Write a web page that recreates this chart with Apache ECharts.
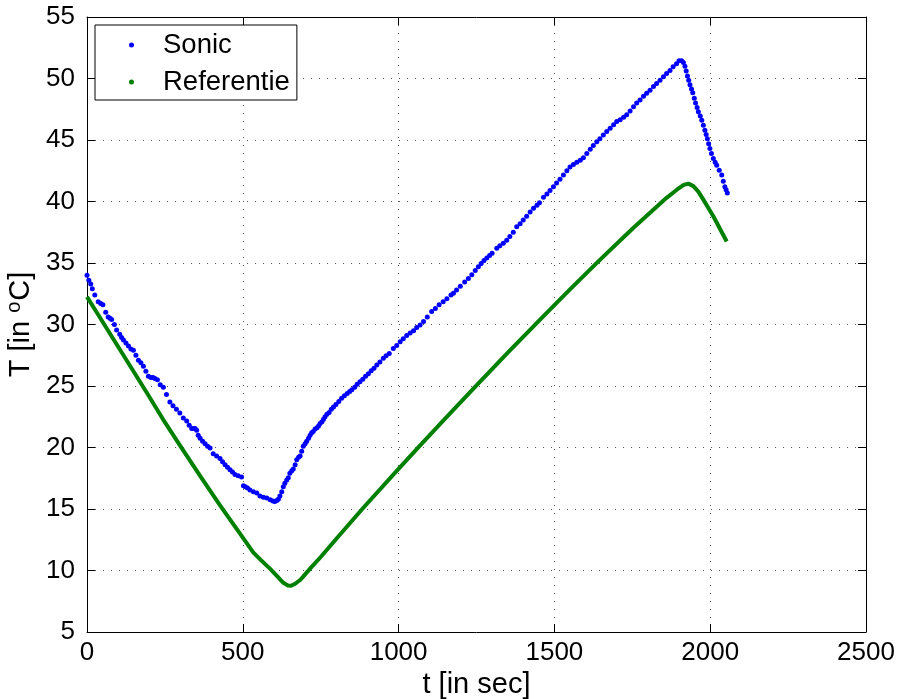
<!DOCTYPE html>
<html>
<head>
<meta charset="utf-8">
<script src="https://cdn.jsdelivr.net/npm/echarts@6/dist/echarts.min.js"></script>
<style>
  html, body { margin: 0; padding: 0; background: #fff; }
  #chart { width: 901px; height: 699px; }
</style>
</head>
<body>
<div id="chart"></div>
<script>
// Tick values
const xTicks = [0, 500, 1000, 1500, 2000, 2500];
const yTicks = [5, 10, 15, 20, 25, 30, 35, 40, 45, 50, 55];

// Sonic sensor: time [s]
const sonicT = [
  0, 6, 12, 17, 25, 36, 44, 51, 60, 68, 74, 79, 88, 95, 105, 111, 117, 125, 133, 141,
  149, 157, 165, 173, 181, 189, 197, 205, 212, 218, 226, 235, 245, 255, 266, 276, 287, 298, 309, 320,
  328, 336, 342, 347, 352, 357, 363, 371, 379, 387, 395, 405, 416, 427, 435, 443, 451, 459, 467, 475,
  485, 496, 502, 508, 515, 523, 534, 545, 555, 566, 577, 588, 597, 603, 609, 614, 619, 625, 630, 635,
  641, 646, 651, 657, 662, 668, 673, 679, 684, 689, 694, 700, 705, 711, 716, 721, 726, 732, 738, 743,
  748, 754, 759, 764, 770, 777, 784, 791, 799, 808, 817, 826, 835, 843, 850, 859, 867, 876, 885, 894,
  903, 912, 921, 930, 940, 951, 960, 970, 983, 994, 1005, 1015, 1026, 1037, 1048, 1058, 1069, 1080, 1092, 1106,
  1118, 1130, 1143, 1155, 1168, 1176, 1186, 1198, 1212, 1224, 1235, 1246, 1256, 1265, 1274, 1283, 1292, 1300, 1315, 1325,
  1336, 1347, 1357, 1368, 1379, 1390, 1400, 1411, 1422, 1433, 1444, 1452, 1465, 1476, 1486, 1497, 1507, 1518, 1529, 1540,
  1550, 1561, 1572, 1583, 1593, 1604, 1615, 1625, 1636, 1646, 1657, 1668, 1679, 1690, 1700, 1711, 1722, 1732, 1743, 1754,
  1764, 1775, 1786, 1796, 1807, 1818, 1828, 1839, 1850, 1860, 1871, 1881, 1892, 1900, 1908, 1914, 1919, 1923, 1927, 1931,
  1935, 1940, 1944, 1949, 1953, 1958, 1962, 1968, 1973, 1978, 1983, 1987, 1991, 1995, 1999, 2004, 2010, 2016, 2021, 2029,
  2037, 2042, 2047, 2051, 2055
];
// Sonic sensor: temperature [°C]
const sonicTemp = [
  34.0, 33.6, 33.3, 32.9, 32.4, 31.85, 31.7, 31.6, 31.0, 30.6, 30.5, 30.4, 30.0, 29.55, 29.2, 28.95, 28.75, 28.5, 28.25, 28.0,
  27.9, 27.5, 27.1, 26.9, 26.6, 26.2, 25.8, 25.7, 25.7, 25.6, 25.5, 25.1, 24.9, 24.3, 23.7, 23.4, 23.1, 22.8, 22.4, 22.15,
  21.8, 21.55, 21.55, 21.55, 21.4, 21.0, 20.75, 20.5, 20.3, 20.1, 19.95, 19.5, 19.3, 19.1, 18.85, 18.6, 18.4, 18.2, 18.0, 17.8,
  17.7, 17.6, 16.9, 16.8, 16.7, 16.55, 16.4, 16.3, 16.05, 15.95, 15.9, 15.75, 15.65, 15.6, 15.7, 15.8, 16.05, 16.4, 16.8, 17.1,
  17.35, 17.55, 17.9, 18.1, 18.25, 18.6, 19.0, 19.2, 19.3, 19.7, 20.1, 20.3, 20.5, 20.75, 21.0, 21.2, 21.3, 21.5, 21.6, 21.75,
  21.95, 22.1, 22.3, 22.5, 22.7, 22.85, 23.1, 23.3, 23.5, 23.75, 24.0, 24.2, 24.4, 24.55, 24.7, 24.9, 25.15, 25.35, 25.55, 25.8,
  26.0, 26.25, 26.45, 26.7, 26.95, 27.25, 27.45, 27.65, 28.05, 28.3, 28.6, 28.85, 29.1, 29.3, 29.5, 29.75, 29.95, 30.25, 30.6, 31.05,
  31.3, 31.6, 31.85, 32.1, 32.4, 32.55, 32.8, 33.1, 33.45, 33.75, 34.05, 34.4, 34.7, 34.95, 35.2, 35.4, 35.6, 35.8, 36.2, 36.4,
  36.6, 36.85, 37.15, 37.5, 37.95, 38.2, 38.5, 38.8, 39.15, 39.45, 39.7, 39.9, 40.35, 40.6, 40.9, 41.2, 41.5, 41.8, 42.15, 42.5,
  42.8, 43.0, 43.2, 43.35, 43.55, 43.9, 44.25, 44.55, 44.85, 45.1, 45.4, 45.7, 45.95, 46.25, 46.5, 46.65, 46.85, 47.05, 47.35, 47.7,
  48.0, 48.25, 48.55, 48.8, 49.05, 49.35, 49.6, 49.85, 50.15, 50.4, 50.65, 50.95, 51.2, 51.45, 51.45, 51.3, 51.0, 50.6, 50.2, 49.85,
  49.5, 49.15, 48.85, 48.4, 48.0, 47.65, 47.3, 46.95, 46.6, 46.2, 45.8, 45.45, 45.1, 44.7, 44.3, 43.9, 43.5, 43.2, 42.95, 42.55,
  42.15, 41.65, 41.2, 40.95, 40.7
];

// Reference thermometer
const refT = [
  0, 31, 85, 138, 192, 245, 304, 363, 427, 491, 534, 560, 587, 610, 630, 645, 655, 668, 685, 700,
  716, 750, 801, 887, 994, 1070, 1138, 1250, 1352, 1454, 1550, 1646, 1753, 1860, 1895, 1915, 1930, 1946, 1962, 1978,
  2010, 2053
];
const refTemp = [
  32.25, 31.0, 28.8, 26.65, 24.45, 22.25, 19.95, 17.7, 15.3, 13.0, 11.45, 10.8, 10.15, 9.55, 9.0, 8.78, 8.76, 8.92, 9.25, 9.68,
  10.15, 11.1, 12.6, 15.1, 18.1, 20.2, 22.05, 25.05, 27.75, 30.4, 32.85, 35.25, 37.85, 40.3, 41.0, 41.35, 41.45, 41.25, 40.8, 40.15,
  38.8, 36.75
];

const seriesNames = ['Sonic', 'Referentie'];

const FONT = 'Liberation Sans, Arial, Helvetica, sans-serif';
const sonicData = sonicT.map((t, i) => [t, sonicTemp[i]]);
const refData = refT.map((t, i) => [t, refTemp[i]]);

const gridLine = { show: true, lineStyle: { color: '#555', width: 1, type: [1, 7] } };
const axisLine = { show: true, onZero: false, lineStyle: { color: '#000', width: 1 } };
const tick = { show: true, inside: true, length: 8, lineStyle: { color: '#000', width: 1 } };
const plainNumber = v => String(v);

const chart = echarts.init(document.getElementById('chart'), null, { renderer: 'canvas' });
chart.setOption({
  animation: false,
  backgroundColor: '#fff',
  grid: { left: 87, right: 35, top: 17, bottom: 67, containLabel: false, outerBoundsMode: 'none' },
  legend: {
    left: 95, top: 25, orient: 'vertical',
    backgroundColor: '#fff', borderColor: '#000', borderWidth: 1,
    padding: [6, 7, 4, 34],
    itemWidth: 5, itemHeight: 5, itemGap: 9,
    textStyle: { fontFamily: FONT, fontSize: 27.5, color: '#000', padding: [0, 0, 0, 24] },
    data: [
      { name: seriesNames[0], icon: 'circle' },
      { name: seriesNames[1], icon: 'circle' }
    ]
  },
  xAxis: [
    {
      type: 'value', min: xTicks[0], max: xTicks[xTicks.length - 1], interval: 500,
      name: 't [in sec]', nameLocation: 'middle', nameGap: 38,
      nameTextStyle: { fontFamily: FONT, fontSize: 29, color: '#000' },
      axisLine, axisTick: tick, splitLine: gridLine,
      axisLabel: { fontFamily: FONT, fontSize: 26, color: '#000', margin: 8, formatter: plainNumber }
    },
    {
      type: 'value', position: 'top', min: xTicks[0], max: xTicks[xTicks.length - 1], interval: 500,
      axisLine, axisTick: tick, splitLine: { show: false }, axisLabel: { show: false }
    }
  ],
  yAxis: [
    {
      type: 'value', min: yTicks[0], max: yTicks[yTicks.length - 1], interval: 5,
      name: 'T [in {sup|o}C]', nameLocation: 'middle', nameGap: 43, nameRotate: 90,
      nameTextStyle: {
        fontFamily: FONT, fontSize: 29, color: '#000',
        rich: { sup: { fontFamily: FONT, fontSize: 20, color: '#000', verticalAlign: 'top', padding: [0, 1, 13, 0] } }
      },
      axisLine, axisTick: tick, splitLine: gridLine,
      axisLabel: { fontFamily: FONT, fontSize: 26, color: '#000', margin: 12, formatter: plainNumber }
    },
    {
      type: 'value', position: 'right', min: yTicks[0], max: yTicks[yTicks.length - 1], interval: 5,
      axisLine, axisTick: tick, splitLine: { show: false }, axisLabel: { show: false }
    }
  ],
  series: [
    {
      name: seriesNames[0], type: 'scatter', data: sonicData,
      symbol: 'circle', symbolSize: 5,
      itemStyle: { color: '#0000ff', opacity: 1 }, z: 3
    },
    {
      name: seriesNames[1], type: 'line', data: refData,
      showSymbol: false, symbol: 'circle', smooth: false,
      lineStyle: { color: '#008000', width: 4, join: 'round' },
      itemStyle: { color: '#008000' }, z: 2
    }
  ]
});
</script>
</body>
</html>
